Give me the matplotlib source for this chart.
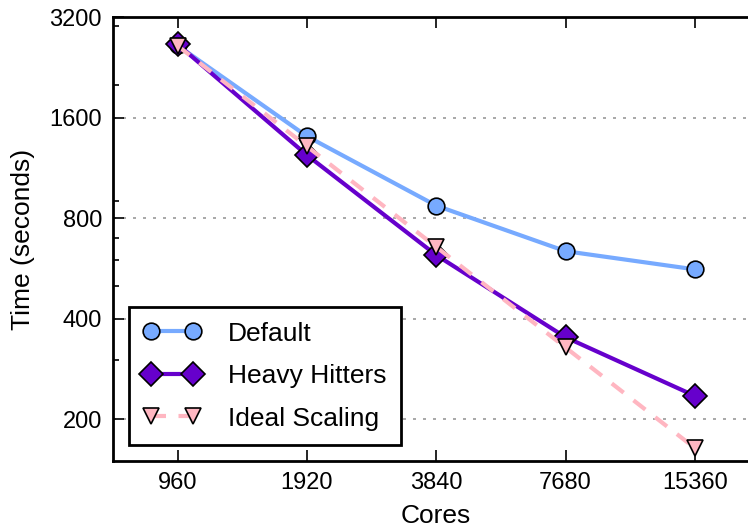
import matplotlib
matplotlib.use("Agg")
import matplotlib.pyplot as plt
from matplotlib.ticker import FixedLocator, NullFormatter, FixedFormatter

plt.rcParams['font.family'] = ['Liberation Sans', 'DejaVu Sans']

cores = [960, 1920, 3840, 7680, 15360]
default = [2630, 1406, 872, 637, 562]
heavy_hitters = [2650, 1235, 620, 352, 235]
ideal_scaling = [2624, 1312, 656, 328, 164]
y_ticks = [200, 400, 800, 1600, 3200]
y_minor = [300, 500, 600, 700, 900, 2000, 3000]

fig = plt.figure(figsize=(7.48, 5.31), dpi=100)
ax = fig.add_axes([113/748, 70/531, 646.5/748, 444/531])

ax.plot(cores, default, '-o', color='#77aaff', lw=3, ms=12, mfc='#77aaff', mec='black', mew=1.2, label='Default')
ax.plot(cores, heavy_hitters, '-D', color='#6600cc', lw=3, ms=12, mfc='#6600cc', mec='black', mew=1.2, label='Heavy Hitters')
ax.plot(cores, ideal_scaling, '--v', color='#ffb6c1', lw=3, ms=12, mfc='#ffb6c1', mec='black', mew=1.2,
        dashes=(3.6, 3), label='Ideal Scaling')

ax.set_xscale('log', base=2)
ax.set_yscale('log', base=2)
ax.set_xlim(960/2**0.5, 15360*2**0.5)
ax.set_ylim(150, 3200)

ax.xaxis.set_major_locator(FixedLocator(cores))
ax.xaxis.set_major_formatter(FixedFormatter([str(c) for c in cores]))
ax.xaxis.set_minor_locator(FixedLocator([]))
ax.yaxis.set_major_locator(FixedLocator(y_ticks))
ax.yaxis.set_major_formatter(FixedFormatter([str(v) for v in y_ticks]))
ax.yaxis.set_minor_locator(FixedLocator(y_minor))
ax.yaxis.set_minor_formatter(NullFormatter())

ax.tick_params(which='both', direction='in', top=True, right=True, labelsize=17, width=1.2)
ax.tick_params(which='major', length=8, pad=8)
ax.tick_params(which='minor', length=4)
for s in ax.spines.values():
    s.set_linewidth(2)

ax.grid(True, axis='y', which='major', linestyle=(0, (1.8, 4.2)), color='#999999', lw=1.2)

ax.set_xlabel('Cores', fontsize=19, labelpad=7)
ax.set_ylabel('Time (seconds)', fontsize=19, labelpad=10)

leg = ax.legend(loc='lower left', numpoints=2, fontsize=19, fancybox=False, framealpha=1,
                edgecolor='black', borderpad=0.55, labelspacing=0.7, handlelength=2.2,
                handletextpad=1.0, borderaxespad=0.6)
leg.get_frame().set_linewidth(2)

fig.savefig('out.png', dpi=100)
